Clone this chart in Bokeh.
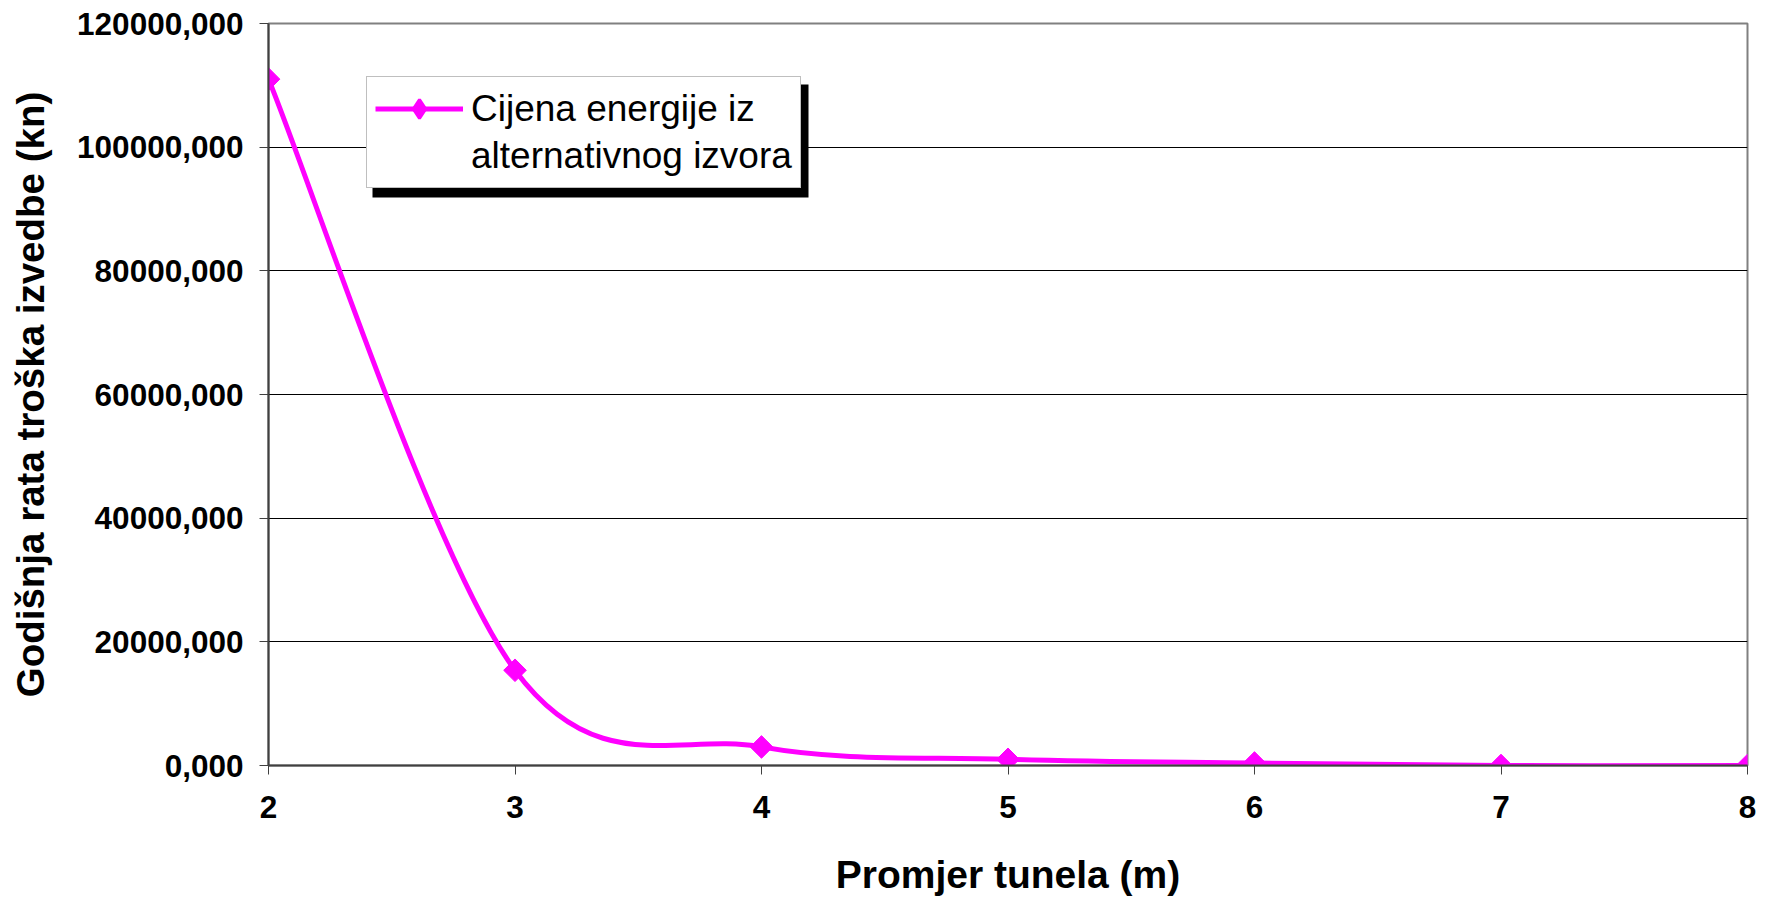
import numpy as np
from bokeh.plotting import figure
from bokeh.models import FixedTicker, Legend, LegendItem, Range1d, BoxAnnotation
from bokeh.embed import file_html
from bokeh.resources import INLINE

# ---- data ----
diameters = [2, 3, 4, 5, 6, 7, 8]
costs = [111000, 15400, 3000, 1000, 400, 0, 0]
series_line1 = "Cijena energije iz"
series_line2 = "alternativnog izvora"
x_ticks = [2, 3, 4, 5, 6, 7, 8]
y_ticks = [0, 20000, 40000, 60000, 80000, 100000, 120000]
y_tick_labels = ["0,000", "20000,000", "40000,000", "60000,000",
                 "80000,000", "100000,000", "120000,000"]
x_title = "Promjer tunela (m)"
y_title = "Godišnja rata troška izvedbe (kn)"

MAGENTA = "#FF00FF"
FONT = "Liberation Sans"

p = figure(frame_width=1479, frame_height=742,
           min_border_left=268, min_border_right=11,
           min_border_top=23, min_border_bottom=128,
           x_range=Range1d(2, 8), y_range=Range1d(0, 120000),
           output_backend="svg", toolbar_location=None,
           background_fill_color="white", border_fill_color="white")

p.outline_line_color = "#808080"
p.outline_line_width = 2

# grid
p.xgrid.visible = False
p.ygrid.ticker = FixedTicker(ticks=y_ticks)
p.ygrid.grid_line_color = "black"
p.ygrid.grid_line_width = 1

# axes
for ax in (p.xaxis[0], p.yaxis[0]):
    ax.axis_line_color = "#404040"
    ax.axis_line_width = 2
    ax.major_tick_line_color = "#404040"
    ax.major_tick_line_width = 1
    ax.major_tick_in = 0
    ax.major_tick_out = 9
    ax.minor_tick_line_color = None
    ax.major_label_text_font = FONT
    ax.major_label_text_font_style = "bold"
    ax.major_label_text_font_size = "31.5px"
    ax.major_label_text_color = "black"
    ax.axis_label_text_font = FONT
    ax.axis_label_text_font_style = "bold"
    ax.axis_label_text_color = "black"

p.xaxis.ticker = FixedTicker(ticks=x_ticks)
p.xaxis.major_label_standoff = 21
p.xaxis.axis_label = x_title
p.xaxis.axis_label_text_font_size = "39px"
p.xaxis.axis_label_standoff = 32

p.yaxis.ticker = FixedTicker(ticks=y_ticks)
p.yaxis.major_label_overrides = {t: l for t, l in zip(y_ticks, y_tick_labels)}
p.yaxis.major_label_standoff = 16
p.yaxis.axis_label = y_title
p.yaxis.axis_label_text_font_size = "38.5px"
p.yaxis.axis_label_standoff = 22

# ---- smoothed line (Bezier segments derived from the data points) ----
xs = np.array(diameters, dtype=float)
ys = np.array(costs, dtype=float)
n = len(xs)
xp = np.concatenate([[xs[0]], xs, [xs[-1]]])
yp = np.concatenate([[ys[0]], ys, [ys[-1]]])
k = 1.0 / 6.0
cx0 = xs[:-1] + (xp[2:n + 1] - xp[0:n - 1]) * k
cy0 = ys[:-1] + (yp[2:n + 1] - yp[0:n - 1]) * k
cx1 = xs[1:] - (xp[3:n + 2] - xp[1:n]) * k
cy1 = ys[1:] - (yp[3:n + 2] - yp[1:n]) * k

p.bezier(x0=xs[:-1], y0=ys[:-1], x1=xs[1:], y1=ys[1:],
         cx0=cx0, cy0=cy0, cx1=cx1, cy1=cy1,
         line_color=MAGENTA, line_width=5)

pts = p.scatter(diameters, costs, marker="square", angle=np.pi / 4,
                size=16, fill_color=MAGENTA, line_color=MAGENTA)

# renderers used only for the legend symbol
leg_line = p.line(x=[np.nan], y=[np.nan], line_color=MAGENTA, line_width=5)
leg_mark = p.scatter(diameters, costs, marker="diamond", size=20,
                     fill_color=MAGENTA, line_color=MAGENTA, line_width=3,
                     visible=False)
leg_blank = p.line(x=[np.nan], y=[np.nan], line_color=MAGENTA, line_alpha=0)

# legend geometry (screen pixels relative to the plot frame)
LEG_X, LEG_Y, LEG_W, LEG_H = 98, 577, 433, 110

shadow = BoxAnnotation(left=LEG_X + 6, right=LEG_X + LEG_W + 9,
                       bottom=LEG_Y - 9, top=LEG_Y + LEG_H - 6,
                       left_units="screen", right_units="screen",
                       bottom_units="screen", top_units="screen",
                       fill_color="black", fill_alpha=1.0, line_color=None)
p.add_layout(shadow)

legend = Legend(items=[LegendItem(label=series_line1, renderers=[leg_line, leg_mark]),
                       LegendItem(label=series_line2, renderers=[leg_blank])],
                location=(LEG_X, LEG_Y),
                glyph_width=88, glyph_height=47, label_standoff=8, padding=8,
                label_text_font=FONT, label_text_font_size="37px",
                label_text_color="black", label_height=47,
                border_line_width=1, border_line_color="#808080",
                background_fill_color="white", background_fill_alpha=1.0,
                margin=0, spacing=0)
p.add_layout(legend, "center")

open("out.html", "w").write(file_html(p, INLINE))
